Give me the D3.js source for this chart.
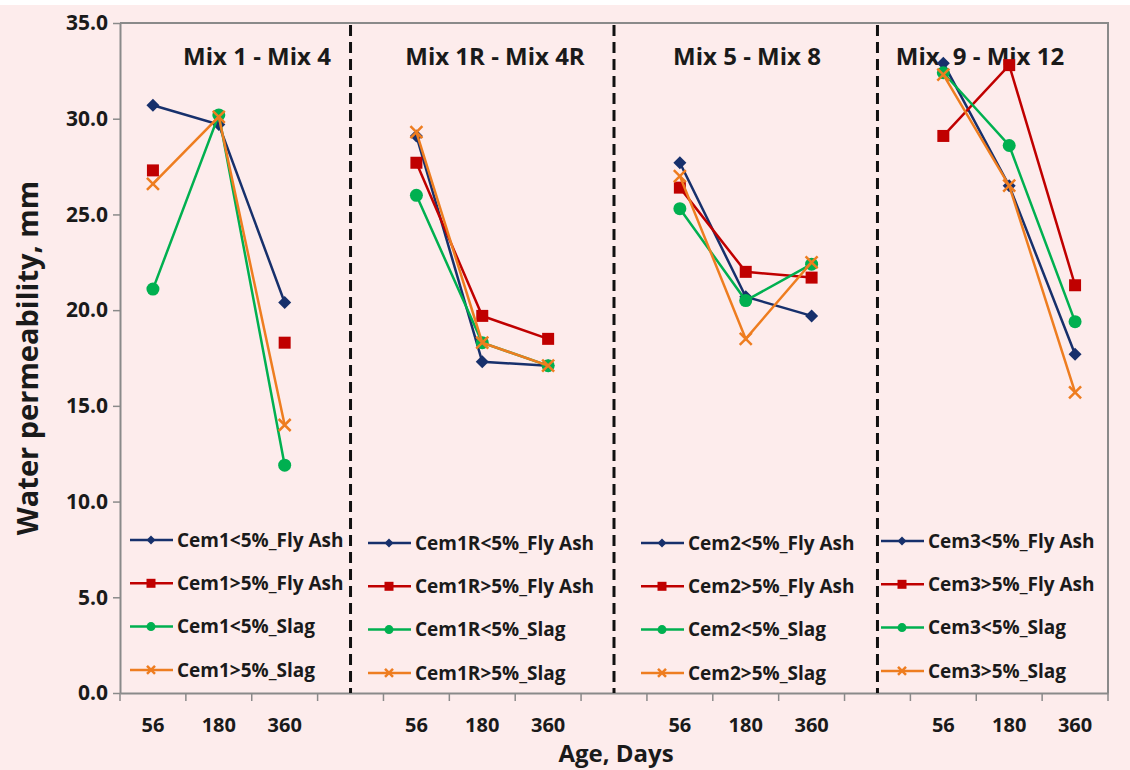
<!DOCTYPE html>
<html>
<head>
<meta charset="utf-8">
<script src="https://cdn.jsdelivr.net/npm/d3@7"></script>
<style>
  body { margin: 0; background: #fff; }
  text { font-family: "Open Sans", Lato, sans-serif; font-weight: bold; fill: #1a1a1a; }
</style>
</head>
<body>
<div id="chart"></div>
<script>
// values, one row per panel: [56, 180, 360 days]
const ages = ["56", "180", "360"];
const panelTitles = ["Mix 1 - Mix 4", "Mix 1R - Mix 4R", "Mix 5 - Mix 8", "Mix. 9 - Mix 12"];
const cements = ["Cem1", "Cem1R", "Cem2", "Cem3"];
const flyAshBelow5 = [[30.7, 29.7, 20.4], [29.1, 17.3, 17.1], [27.7, 20.7, 19.7], [32.9, 26.5, 17.7]];
const flyAshAbove5 = [[27.3, null, 18.3], [27.7, 19.7, 18.5], [26.4, 22.0, 21.7], [29.1, 32.8, 21.3]];
const slagBelow5   = [[21.1, 30.2, 11.9], [26.0, 18.3, 17.1], [25.3, 20.5, 22.4], [32.4, 28.6, 19.4]];
const slagAbove5   = [[26.6, 30.1, 14.0], [29.3, 18.3, 17.1], [27.0, 18.5, 22.5], [32.3, 26.5, 15.7]];
const yTicks = [0, 5, 10, 15, 20, 25, 30, 35];

const series = [
  { suffix: "<5%_Fly Ash", values: flyAshBelow5, color: "#17306c", marker: "diamond" },
  { suffix: ">5%_Fly Ash", values: flyAshAbove5, color: "#c00000", marker: "square" },
  { suffix: "<5%_Slag",    values: slagBelow5,   color: "#00b050", marker: "circle" },
  { suffix: ">5%_Slag",    values: slagAbove5,   color: "#ee7d20", marker: "cross" }
];

const W = 1130, H = 770;
const margin = { top: 23, right: 22, bottom: 77, left: 120 };

const svg = d3.select("#chart").append("svg")
  .attr("width", W).attr("height", H);

svg.append("rect").attr("width", W).attr("height", H).attr("fill", "#fff");
svg.append("rect").attr("y", 5).attr("width", W).attr("height", H - 5).attr("fill", "#fdecec");

// 15 category slots: 3 ages per panel plus a blank slot between panels
const slots = [];
panelTitles.forEach((t, p) => {
  ages.forEach(a => slots.push(p + "-" + a));
  if (p < panelTitles.length - 1) slots.push("gap" + p);
});

const x = d3.scaleBand().domain(slots).range([margin.left, W - margin.right]).padding(0);
const y = d3.scaleLinear().domain([0, 35]).range([H - margin.bottom, margin.top]);

const axisColor = "#8a8a8a";

// frame top + right
svg.append("path")
  .attr("d", `M${margin.left},${margin.top}H${W - margin.right}V${H - margin.bottom}`)
  .attr("fill", "none").attr("stroke", axisColor).attr("stroke-width", 2);

// y axis
const yAxis = svg.append("g")
  .attr("transform", `translate(${margin.left},0)`)
  .call(d3.axisLeft(y).tickValues(yTicks).tickFormat(d3.format(".1f")).tickSize(7).tickSizeOuter(0).tickPadding(5));
yAxis.select(".domain").attr("stroke", axisColor).attr("stroke-width", 2);
yAxis.selectAll(".tick line").attr("stroke", axisColor).attr("stroke-width", 1.5);
yAxis.selectAll(".tick text").attr("font-size", 21).attr("fill", "#1a1a1a");

// x axis: labels centred in slots, tick marks on slot boundaries
const xAxis = svg.append("g")
  .attr("transform", `translate(0,${y(0)})`)
  .call(d3.axisBottom(x).tickSize(0).tickPadding(25)
    .tickFormat(d => d.startsWith("gap") ? "" : d.split("-")[1]));
xAxis.select(".domain").attr("stroke", axisColor).attr("stroke-width", 2);
xAxis.selectAll(".tick text").attr("font-size", 20).attr("fill", "#1a1a1a");

const bounds = slots.map(s => x(s)).concat([x.range()[1]]);
svg.append("g").selectAll("line").data(bounds).join("line")
  .attr("x1", d => d).attr("x2", d => d)
  .attr("y1", y(0)).attr("y2", y(0) + 8)
  .attr("stroke", axisColor).attr("stroke-width", 1.5);

// dashed separators in the blank slots
svg.append("g").selectAll("line").data(slots.filter(s => s.startsWith("gap"))).join("line")
  .attr("x1", d => x(d) + x.bandwidth() / 2).attr("x2", d => x(d) + x.bandwidth() / 2)
  .attr("y1", y(35) + 2).attr("y2", y(0))
  .attr("stroke", "#111").attr("stroke-width", 3).attr("stroke-dasharray", "11,6");

// panel titles
const titleX = [257, 495, 747, 980];
svg.append("g").selectAll("text").data(panelTitles).join("text")
  .attr("x", (d, i) => titleX[i]).attr("y", 65)
  .attr("text-anchor", "middle").attr("font-size", 24)
  .text(d => d);

function markerPath(type, s) {
  if (type === "diamond") return d3.symbol(d3.symbolSquare, s * s / 2)();
  if (type === "square") return d3.symbol(d3.symbolSquare, s * s)();
  if (type === "circle") return d3.symbol(d3.symbolCircle, Math.PI * s * s / 4)();
  const h = s / 2;
  return `M${-h},${-h}L${h},${h}M${-h},${h}L${h},${-h}`;
}

function drawMarker(g, type, color, s) {
  const p = g.append("path").attr("d", markerPath(type, s));
  if (type === "diamond") p.attr("transform", "rotate(45)");
  if (type === "cross") p.attr("fill", "none").attr("stroke", color).attr("stroke-width", 2.5);
  else p.attr("fill", color);
  return p;
}

const line = d3.line()
  .defined(d => d.v != null)
  .x(d => x(d.slot) + x.bandwidth() / 2)
  .y(d => y(d.v));

const plot = svg.append("g");
series.forEach(se => {
  se.values.forEach((vals, p) => {
    const pts = vals.map((v, k) => ({ slot: p + "-" + ages[k], v }));
    plot.append("path").datum(pts)
      .attr("d", line).attr("fill", "none")
      .attr("stroke", se.color).attr("stroke-width", 2.5);
    pts.filter(d => d.v != null).forEach(d => {
      const g = plot.append("g")
        .attr("transform", `translate(${x(d.slot) + x.bandwidth() / 2},${y(d.v)})`);
      drawMarker(g, se.marker, se.color, se.marker === "circle" ? 13 : se.marker === "diamond" ? 13 : 12);
    });
  });
});

// legends, one per panel
const legendX = [130, 368, 641, 881];
const legendY = [540, 543, 543, 541];
cements.forEach((cem, p) => {
  series.forEach((se, i) => {
    const yy = legendY[p] + i * 43.3;
    const g = svg.append("g").attr("transform", `translate(${legendX[p]},${yy})`);
    g.append("line").attr("x1", 0).attr("x2", 43)
      .attr("stroke", se.color).attr("stroke-width", 2.5);
    const m = g.append("g").attr("transform", "translate(21,0)");
    drawMarker(m, se.marker, se.color, se.marker === "cross" ? 8 : 9);
    g.append("text").attr("x", 47).attr("dy", "0.35em")
      .attr("font-size", 19).text(cem + se.suffix);
  });
});

// axis titles
svg.append("text")
  .attr("transform", `translate(38,${(y(0) + y(35)) / 2}) rotate(-90)`)
  .attr("text-anchor", "middle").attr("font-size", 29)
  .text("Water permeability, mm");
svg.append("text")
  .attr("x", 616).attr("y", 762)
  .attr("text-anchor", "middle").attr("font-size", 24)
  .text("Age, Days");
</script>
</body>
</html>
